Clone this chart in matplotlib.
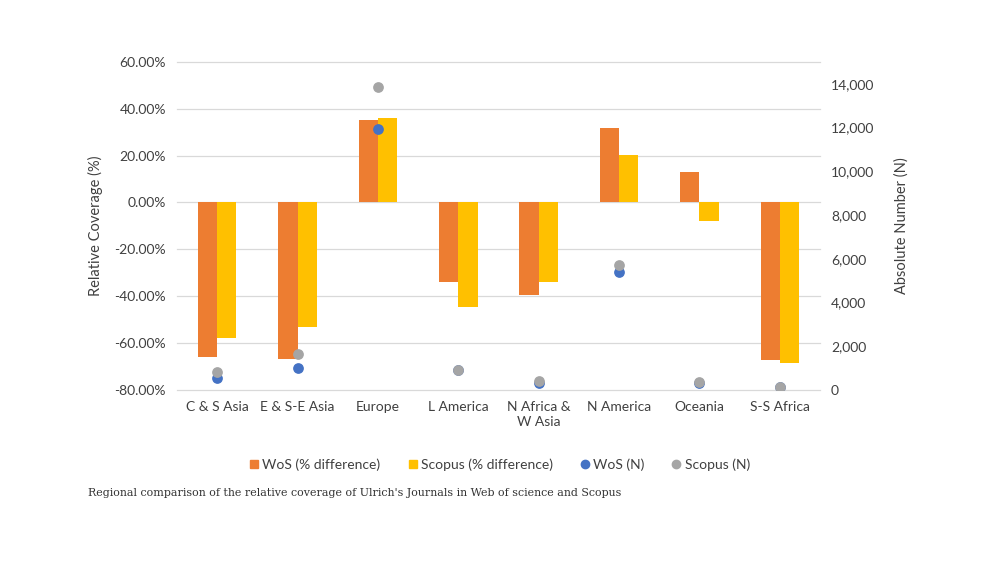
import matplotlib
matplotlib.use("Agg")
import matplotlib.pyplot as plt
import numpy as np
from matplotlib.lines import Line2D
from matplotlib.ticker import FuncFormatter

## DATA ##

regions = ['C & S Asia', 'E & S-E Asia', 'Europe', 'L America',
           'N Africa &\nW Asia', 'N America', 'Oceania', 'S-S Africa']

# relative coverage (% difference)
wos_pct = [-65.8, -66.7, 35.0, -33.8, -39.3, 31.6, 13.2, -67.1]
scopus_pct = [-57.7, -53.0, 35.9, -44.4, -33.8, 20.1, -7.7, -68.4]

# absolute numbers (N)
wos_n = [550, 1000, 11920, 900, 300, 5390, 330, 120]
scopus_n = [820, 1640, 13830, 913, 410, 5700, 365, 140]

## COLOURS ##
c_wos = '#ED7D31'
c_scopus = '#FFC000'
c_wos_n = '#4472C4'
c_scopus_n = '#A5A5A5'
txt = '#404040'

plt.rcParams['font.family'] = ['Lato', 'DejaVu Sans']

fig = plt.figure(figsize=(10, 5.62), dpi=100)
ax = fig.add_axes([0.177, 0.306, 0.643, 0.584])
ax2 = ax.twinx()

x = np.arange(len(regions))
w = 0.24
ax.bar(x - w/2, wos_pct, w, color=c_wos, zorder=2)
ax.bar(x + w/2, scopus_pct, w, color=c_scopus, zorder=2)

ax.set_xlim(-0.5, len(regions) - 0.5)
ax.set_ylim(-80, 60)
ax.set_yticks(np.arange(-80, 61, 20))
ax.yaxis.set_major_formatter(FuncFormatter(lambda v, p: '%.2f%%' % v))
ax.grid(axis='y', color='#d9d9d9', linewidth=0.9, zorder=0)
ax.set_axisbelow(True)
for gl in ax.get_ygridlines():
    gl.set_clip_on(False)
ax.set_xticks(x)
ax.set_xticklabels(regions, fontsize=10, color=txt, linespacing=1.3)
ax.set_ylabel('Relative Coverage (%)', fontsize=10.5, color=txt, labelpad=8)

# secondary axis: absolute numbers
ax2.scatter(x, wos_n, s=45, color=c_wos_n, zorder=3)
ax2.scatter(x, scopus_n, s=45, color=c_scopus_n, zorder=4)
ax2.set_ylim(0, 15000)
ax2.set_yticks(np.arange(0, 14001, 2000))
ax2.yaxis.set_major_formatter(FuncFormatter(lambda v, p: '{:,.0f}'.format(v)))
ax2.set_ylabel('Absolute Number (N)', fontsize=10.5, color=txt, labelpad=14)

for a in (ax, ax2):
    for s in a.spines.values():
        s.set_visible(False)
    a.tick_params(length=0, labelsize=10, colors=txt, pad=8)

# legend
handles = [
    Line2D([], [], marker='s', linestyle='', color=c_wos, markersize=6),
    Line2D([], [], marker='s', linestyle='', color=c_scopus, markersize=6),
    Line2D([], [], marker='o', linestyle='', color=c_wos_n, markersize=6),
    Line2D([], [], marker='o', linestyle='', color=c_scopus_n, markersize=6),
]
labels = ['WoS (% difference)', 'Scopus (% difference)', 'WoS (N)', 'Scopus (N)']
fig.legend(handles, labels, loc='center', bbox_to_anchor=(0.5, 0.173), ncol=4,
           frameon=False, fontsize=10, handlelength=0.6, handletextpad=0.3,
           columnspacing=2.0, labelcolor=txt)

fig.text(0.088, 0.122, "Regional comparison of the relative coverage of Ulrich's Journals in Web of science and Scopus",
         fontsize=7.9, family='DejaVu Serif', color='#333333', va='center')

fig.savefig('out.png', dpi=100, facecolor='white')
